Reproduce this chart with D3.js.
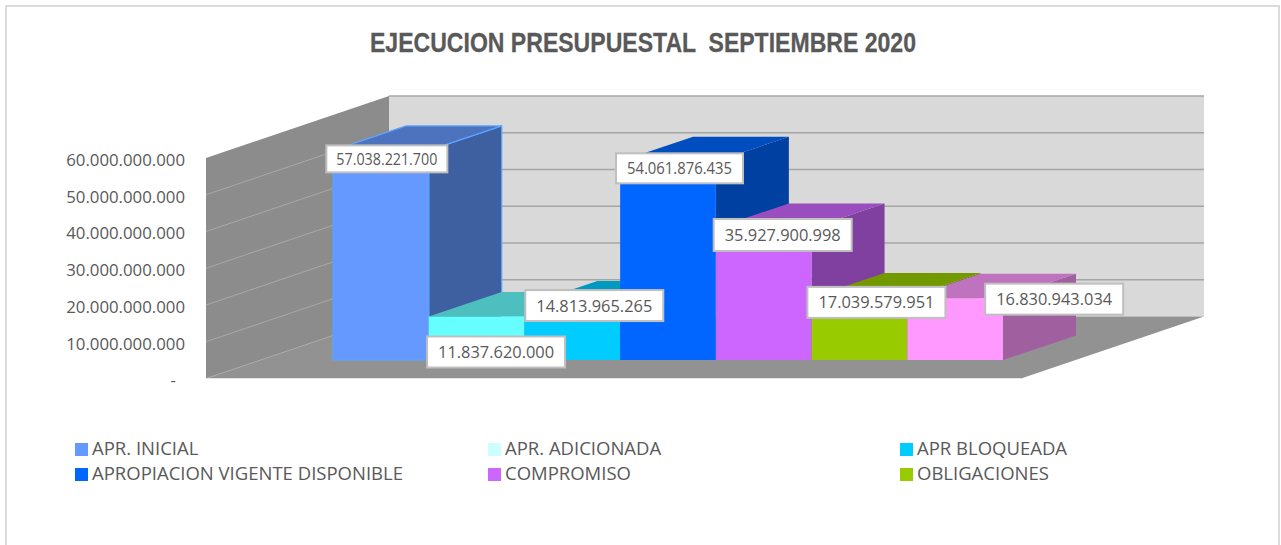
<!DOCTYPE html>
<html><head><meta charset="utf-8">
<script src="https://cdn.jsdelivr.net/npm/d3@7/dist/d3.min.js"></script>
<style>html,body{margin:0;padding:0;background:#fff;overflow:hidden}svg{display:block}</style>
</head><body><svg id="c" width="1281" height="545"></svg>
<script>
const title = "EJECUCION PRESUPUESTAL  SEPTIEMBRE 2020";
const values = [57038221700, 11837620000, 14813965265, 54061876435, 35927900998, 17039579951, 16830943034];
const valueLabels = ["57.038.221.700","11.837.620.000","14.813.965.265","54.061.876.435","35.927.900.998","17.039.579.951","16.830.943.034"];
const legendNames = ["APR. INICIAL","APR. ADICIONADA","APR BLOQUEADA","APROPIACION VIGENTE DISPONIBLE","COMPROMISO","OBLIGACIONES"];
const legendColors = ["#6699ff","#ccffff","#00ccff","#0066ff","#cc66ff","#99cc00"];
const frontColors = ["#6699ff","#66ffff","#00ccff","#0066ff","#cc66ff","#99cc00","#ff99ff"];
const topColors = ["#4d73bf","#4dbfbf","#0099bf","#004dbf","#994dbf","#739900","#bf73bf"];
const sideColors = ["#3f60a0","#40a0a0","#0080a0","#0040a0","#8040a0","#608000","#a060a0"];
const ticks = [0,1e10,2e10,3e10,4e10,5e10,6e10];
const labelWidths = [121,138,138,127,138,138,138];
const labelHeights = [27,31,31,30,32,31,31];
const labelFonts = [15.5,17,17,16.5,17,17,17];
const labelTextWidths = [101,116,116,105,116,116,116];
const labelNudge = [[6,8.5],[19.5,35.5],[22,0],[11.5,7],[19,7],[17,5],[99,1]];

const svg = d3.select("#c");
const wall = {x0:206,x1:389,xr:1204,yFrontTop:158,yFrontBottom:378.5,dy:-62};
const y = d3.scaleLinear().domain([0,6e10]).range([wall.yFrontBottom,wall.yFrontTop]);
const h = v => y(0)-y(v);
const baseY = 360, depthX = 73, depthY = -24.5;
const x = d3.scaleBand().domain(d3.range(values.length)).range([333,1003]).padding(0);
const pts = a => a.map(p=>p.join(",")).join(" ");

svg.append("rect").attr("x",6).attr("y",6).attr("width",1273).attr("height",560)
  .attr("fill","#fff").attr("stroke","#dcdcdc").attr("stroke-width",2);

svg.append("text").attr("x",643).attr("y",52).attr("text-anchor","middle")
  .attr("font-family","Liberation Sans").attr("font-weight","bold").attr("font-size",28)
  .attr("fill","#595959").attr("stroke","#595959").attr("stroke-width",0.3)
  .attr("textLength",546).attr("lengthAdjust","spacingAndGlyphs")
  .attr("xml:space","preserve").style("white-space","pre").text(title);

// walls and floor
const dxW = wall.x1-wall.x0;
svg.append("polygon").attr("fill","#d9d9d9")
  .attr("points",pts([[wall.x1,y(6e10)+wall.dy],[wall.xr,y(6e10)+wall.dy],[wall.xr,y(0)+wall.dy],[wall.x1,y(0)+wall.dy]]));
svg.append("polygon").attr("fill","#8c8c8c")
  .attr("points",pts([[wall.x0,y(6e10)],[wall.x1,y(6e10)+wall.dy],[wall.x1,y(0)+wall.dy],[wall.x0,y(0)]]));
svg.append("polygon").attr("fill","#929292")
  .attr("points",pts([[wall.x0,y(0)],[wall.x1,y(0)+wall.dy],[wall.xr,y(0)+wall.dy],[wall.xr-dxW,y(0)]]));
svg.selectAll("line.back").data(ticks.slice(1)).join("line").attr("class","back")
  .attr("x1",wall.x1).attr("x2",wall.xr).attr("y1",d=>y(d)+wall.dy).attr("y2",d=>y(d)+wall.dy)
  .attr("stroke","#a6a6a6").attr("stroke-width",1.5);
svg.selectAll("line.side").data(ticks.slice(0,-1)).join("line").attr("class","side")
  .attr("x1",wall.x0).attr("x2",wall.x1).attr("y1",d=>y(d)).attr("y2",d=>y(d)+wall.dy)
  .attr("stroke","#a8a8a8").attr("stroke-width",1);
svg.append("line").attr("x1",wall.x0).attr("x2",wall.xr-dxW).attr("y1",y(0)).attr("y2",y(0))
  .attr("stroke","#e4e4e4").attr("stroke-width",1.2);

// axis
const axis = d3.axisLeft(y).tickValues(ticks).tickSize(0).tickPadding(0)
  .tickFormat(d=>d===0?"-":d3.format(",")(d).replace(/,/g,"."));
const gA = svg.append("g").attr("transform","translate(185,2)").call(axis);
gA.select(".domain").remove();
gA.selectAll("text").attr("font-family","Open Sans").attr("font-size",16.8).attr("fill","#595959");
gA.selectAll(".tick").filter(d=>d===0).select("text").attr("dx",-9);

// bars
const bars = svg.selectAll("g.bar").data(values).join("g").attr("class","bar");
const bw = x.bandwidth();
bars.append("polygon").attr("fill",(d,i)=>sideColors[i])
  .attr("points",(d,i)=>{const r=x(i)+bw,t=baseY-h(d);return pts([[r,t],[r+depthX,t+depthY],[r+depthX,baseY+depthY],[r,baseY]]);});
bars.append("polygon").attr("fill",(d,i)=>topColors[i])
  .attr("points",(d,i)=>{const l=x(i),r=l+bw,t=baseY-h(d);return pts([[l,t],[r,t],[r+depthX,t+depthY],[l+depthX,t+depthY]]);});
bars.append("rect").attr("fill",(d,i)=>frontColors[i])
  .attr("x",(d,i)=>x(i)).attr("width",bw).attr("y",d=>baseY-h(d)).attr("height",d=>h(d));
// first bar carries a light blue outline
const b0 = bars.filter((d,i)=>i===0);
b0.selectAll("rect,polygon").attr("stroke","#5aa5ff").attr("stroke-width",1.2);

// data labels
const labels = svg.selectAll("g.lab").data(values).join("g").attr("class","lab")
  .attr("transform",(d,i)=>`translate(${x(i)+bw/2+labelNudge[i][0]},${baseY-h(d)+labelNudge[i][1]})`);
labels.append("rect").attr("x",(d,i)=>-labelWidths[i]/2).attr("y",(d,i)=>-labelHeights[i]/2)
  .attr("width",(d,i)=>labelWidths[i]).attr("height",(d,i)=>labelHeights[i])
  .attr("fill","#fff").attr("stroke","#bfbfbf").attr("stroke-width",2);
labels.append("text").attr("text-anchor","middle").attr("y",6)
  .attr("font-family","Open Sans").attr("font-size",(d,i)=>labelFonts[i]).attr("fill","#595959")
  .attr("textLength",(d,i)=>labelTextWidths[i]).attr("lengthAdjust","spacingAndGlyphs")
  .text((d,i)=>valueLabels[i]);

// legend
const colX = [75,488,900], rowY = [443,468];
const leg = svg.selectAll("g.leg").data(legendNames).join("g").attr("class","leg")
  .attr("transform",(d,i)=>`translate(${colX[i%3]},${rowY[Math.floor(i/3)]})`);
leg.append("rect").attr("width",13).attr("height",13).attr("fill",(d,i)=>legendColors[i]);
leg.append("text").attr("x",17).attr("y",12).attr("font-family","Open Sans").attr("font-size",18.5)
  .attr("fill","#595959").text(d=>d);
</script></body></html>
